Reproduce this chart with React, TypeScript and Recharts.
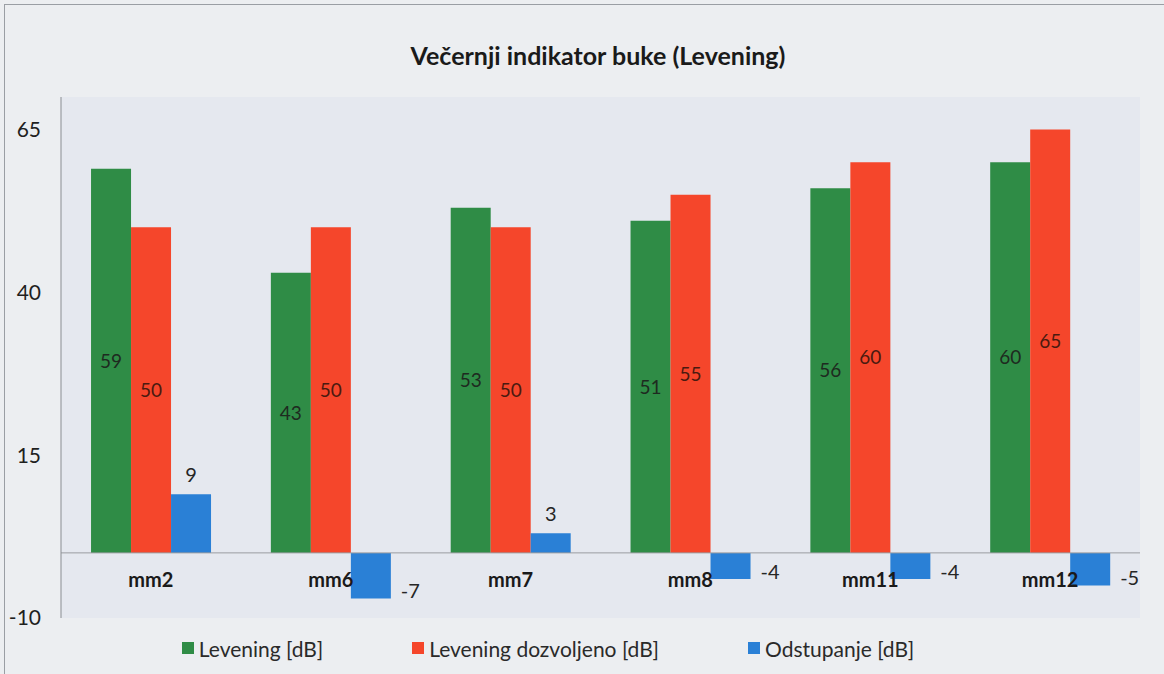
import React from "react";
import {
  BarChart,
  Bar,
  XAxis,
  YAxis,
  CartesianGrid,
  ReferenceLine,
  Legend,
  LabelList,
} from "recharts";

const categories = ["mm2", "mm6", "mm7", "mm8", "mm11", "mm12"];
const levening = [59, 43, 53, 51, 56, 60];
const dozvoljeno = [50, 50, 50, 55, 60, 65];
const odstupanje = [9, -7, 3, -4, -4, -5];
const yTicks = [-10, 15, 40, 65];

const seriesNames = ["Levening [dB]", "Levening dozvoljeno [dB]", "Odstupanje [dB]"];
const colors = ["#2f8c46", "#f5462b", "#2a80d6"];

const data = categories.map((c, i) => ({
  name: c,
  lev: levening[i],
  doz: dozvoljeno[i],
  ods: odstupanje[i],
}));

const FONT = "Lato, 'Open Sans', sans-serif";

const CategoryTick = (props: any) => {
  const { x, y, payload } = props;
  return (
    <text
      x={x}
      y={y - 31}
      textAnchor="middle"
      fontFamily={FONT}
      fontWeight={700}
      fontSize={20}
      fill="#1a1a1a"
    >
      {payload.value}
    </text>
  );
};

const BlueLabel = (props: any) => {
  const { x, y, width, height, value } = props;
  const top = Math.min(y, y + height);
  const bottom = Math.max(y, y + height);
  if (value >= 0) {
    return (
      <text
        x={x + width / 2}
        y={top - 12}
        textAnchor="middle"
        fontFamily={FONT}
        fontSize={20}
        fill="#262626"
      >
        {value}
      </text>
    );
  }
  return (
    <text
      x={x + width + 10}
      y={bottom}
      textAnchor="start"
      fontFamily={FONT}
      fontSize={20}
      fill="#262626"
    >
      {value}
    </text>
  );
};

const LegendContent = () => (
  <div
    style={{
      display: "flex",
      justifyContent: "center",
      alignItems: "center",
      gap: 89,
      paddingRight: 52,
      fontFamily: FONT,
      fontSize: 21,
      color: "#2a2a2a",
      height: 24,
    }}
  >
    {seriesNames.map((n, i) => (
      <div key={n} style={{ display: "flex", alignItems: "center" }}>
        <span
          style={{
            display: "inline-block",
            width: 12,
            height: 12,
            background: colors[i],
            marginRight: 5,
          }}
        />
        <span>{n}</span>
      </div>
    ))}
  </div>
);

export default function App() {
  return (
    <div
      style={{
        position: "absolute",
        left: 0,
        top: 0,
        width: 1164,
        height: 674,
        background: "#eceef1",
        overflow: "hidden",
      }}
    >
      <div
        style={{
          position: "absolute",
          left: 4,
          top: 4,
          width: 1170,
          height: 680,
          borderLeft: "1px solid #9a9ea4",
          borderTop: "1px solid #9a9ea4",
        }}
      />
      <div
        style={{
          position: "absolute",
          left: 0,
          top: 39,
          width: 1196,
          textAlign: "center",
          fontFamily: FONT,
          fontWeight: 700,
          fontSize: 25,
          lineHeight: "32px",
          color: "#1a1a1a",
        }}
      >
        Večernji indikator buke (Levening)
      </div>
      <div style={{ position: "absolute", left: 0, top: 0 }}>
        <BarChart
          width={1164}
          height={674}
          data={data}
          margin={{ top: 97, right: 24, bottom: 14, left: 8 }}
          barCategoryGap="16.7%"
          barGap={0}
        >
          <CartesianGrid
            fill="#e5e8ef"
            horizontal={false}
            vertical={false}
          />
          <XAxis
            dataKey="name"
            height={18}
            axisLine={false}
            tickLine={false}
            tickSize={0}
            tickMargin={0}
            tick={<CategoryTick />}
            interval={0}
          />
          <YAxis
            width={53}
            domain={[-10, 70]}
            ticks={yTicks}
            allowDataOverflow
            axisLine={{ stroke: "#8a8d92", strokeWidth: 1 }}
            tickLine={false}
            tickSize={0}
            tickMargin={20}
            tick={{ fontFamily: FONT, fontSize: 21, fill: "#1f1f1f" }}
          />
          <ReferenceLine y={0} stroke="#9a9ca0" strokeWidth={1} />
          <Legend
            verticalAlign="bottom"
            content={<LegendContent />}
            wrapperStyle={{ height: 24 }}
          />
          <Bar dataKey="lev" name={seriesNames[0]} fill={colors[0]} isAnimationActive={false}>
            <LabelList
              dataKey="lev"
              position="center"
              fontFamily={FONT}
              fontSize={19}
              fill="#1e2a20"
            />
          </Bar>
          <Bar dataKey="doz" name={seriesNames[1]} fill={colors[1]} isAnimationActive={false}>
            <LabelList
              dataKey="doz"
              position="center"
              fontFamily={FONT}
              fontSize={19}
              fill="#4a1a10"
            />
          </Bar>
          <Bar dataKey="ods" name={seriesNames[2]} fill={colors[2]} isAnimationActive={false}>
            <LabelList dataKey="ods" content={<BlueLabel />} />
          </Bar>
        </BarChart>
      </div>
    </div>
  );
}
